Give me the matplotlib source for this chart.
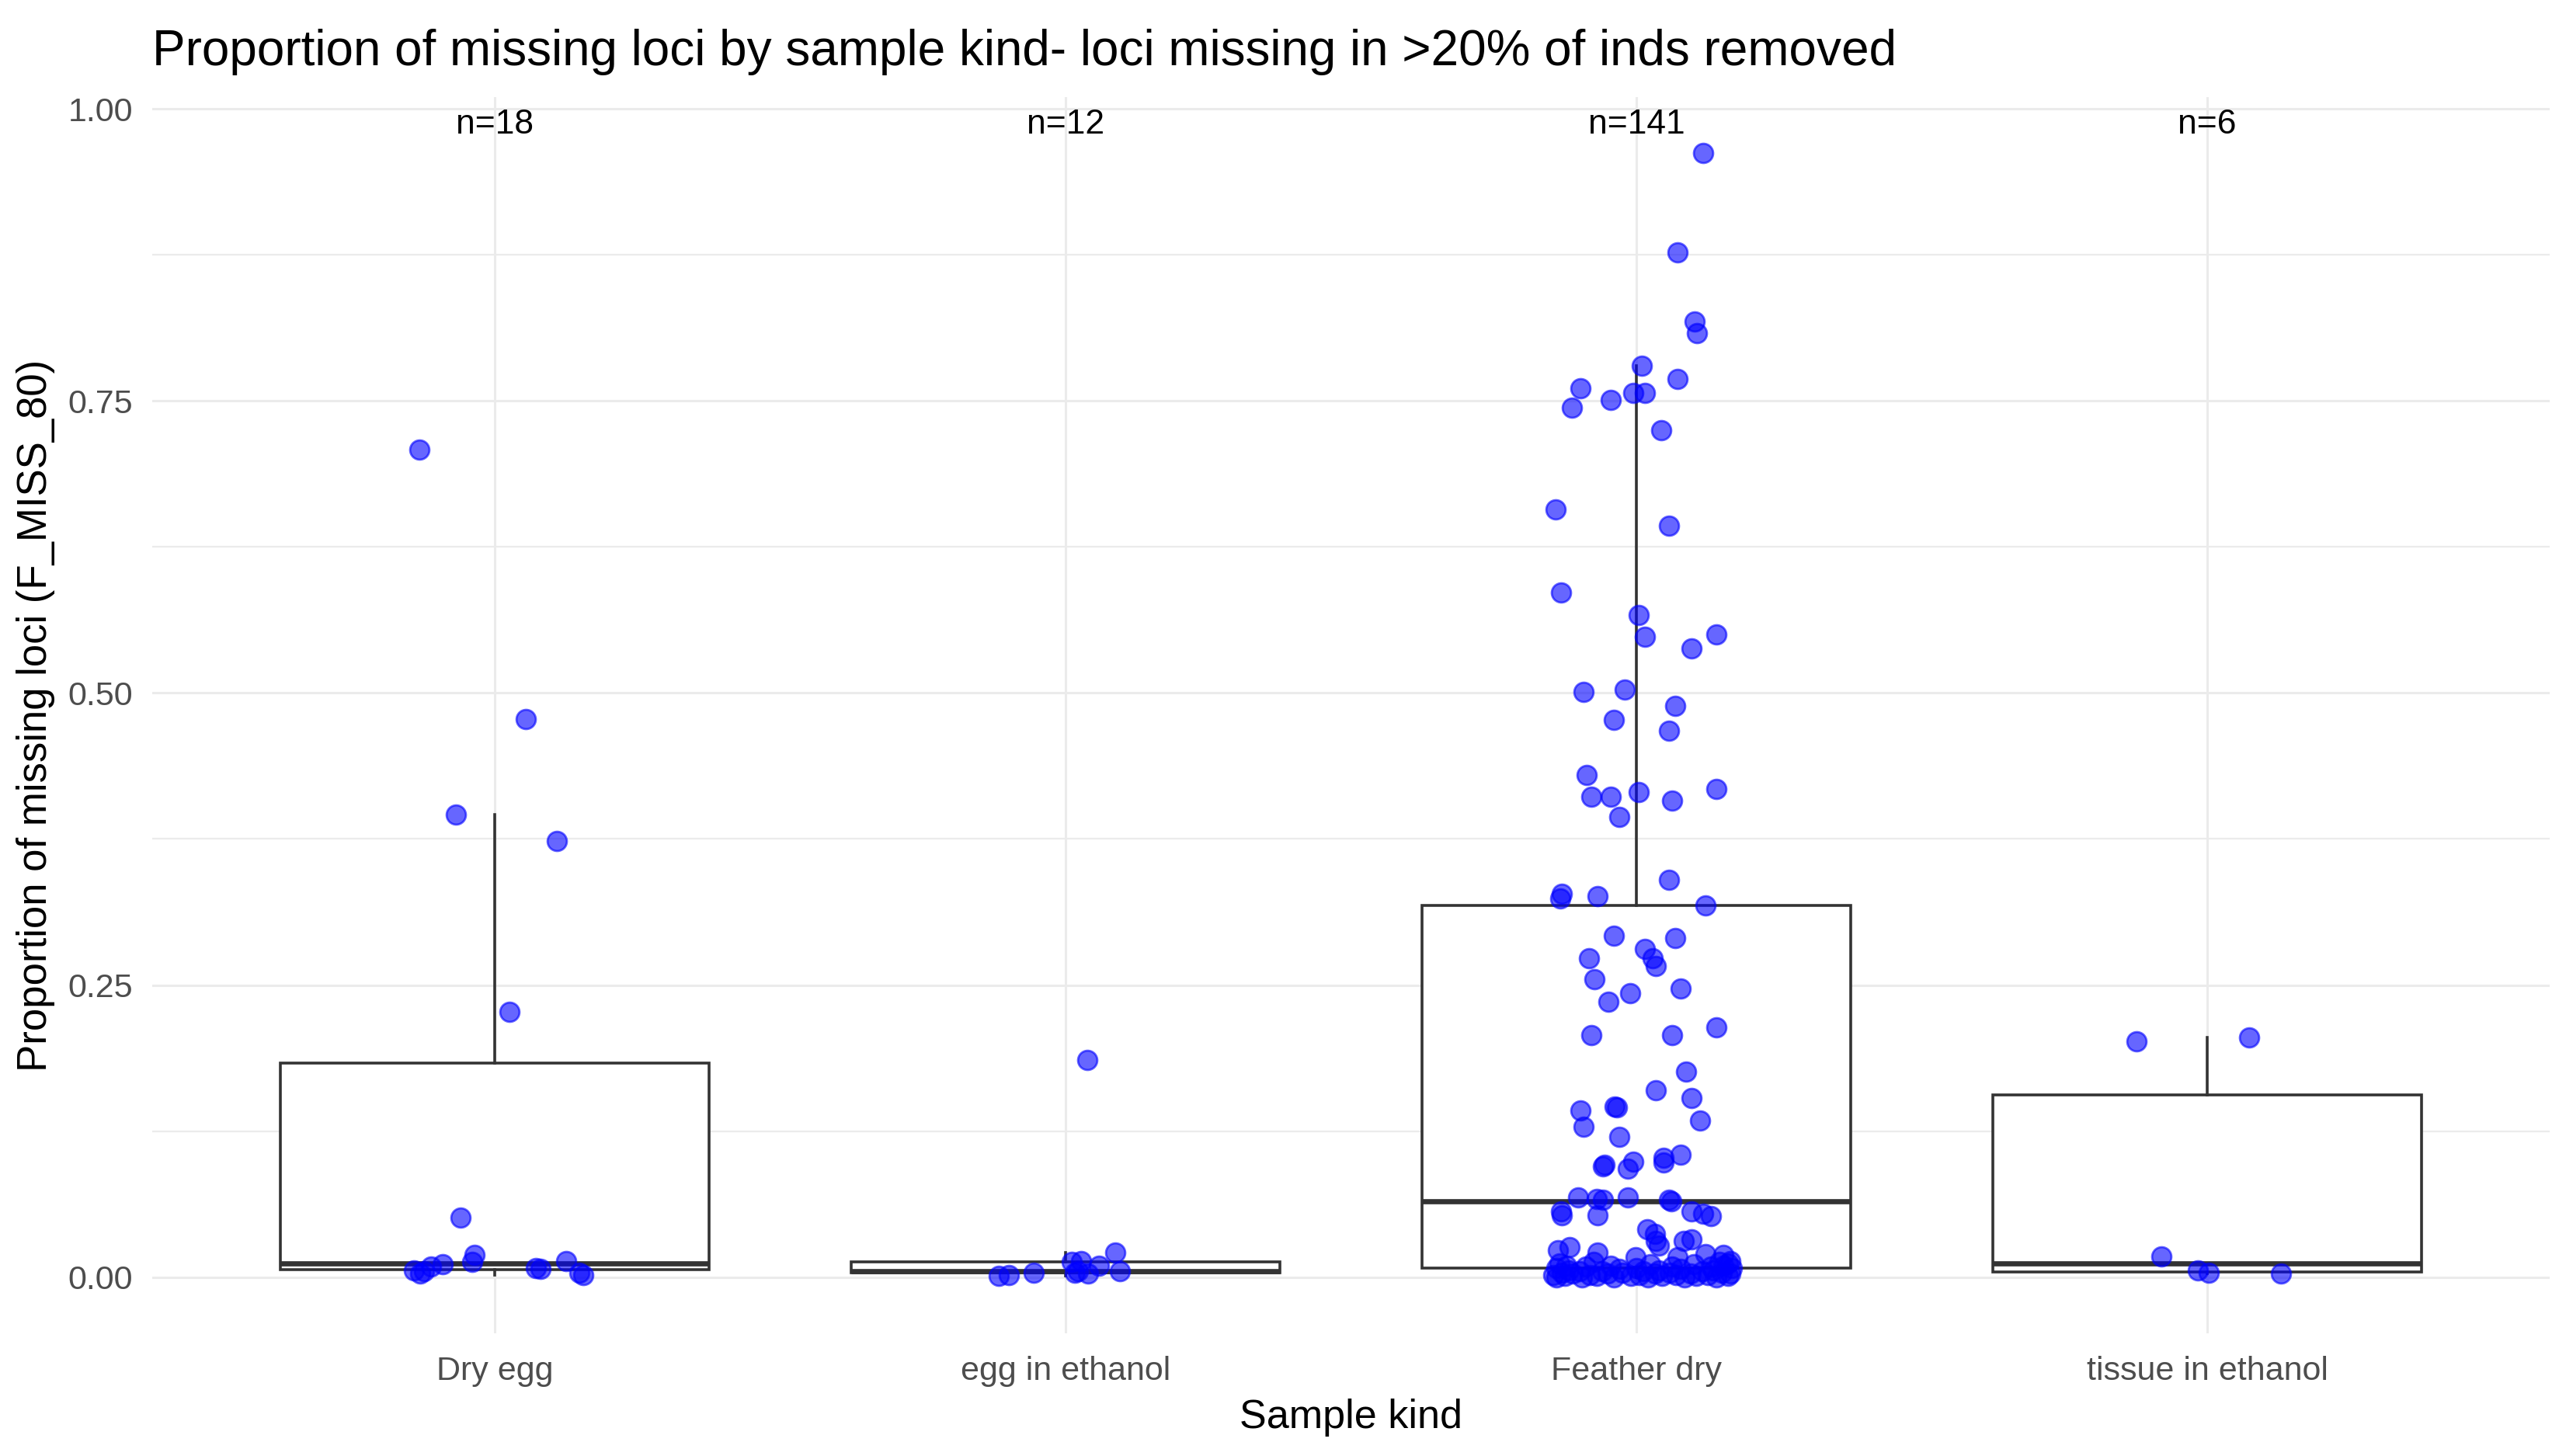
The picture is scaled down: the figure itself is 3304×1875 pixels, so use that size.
import matplotlib.pyplot as plt
import numpy as np
from matplotlib.ticker import MultipleLocator

plt.rcParams['font.family'] = ['Liberation Sans', 'DejaVu Sans']

categories = ["Dry egg", "egg in ethanol", "Feather dry", "tissue in ethanol"]

# F_MISS_80 values per sample kind, with the jitter offset of each point
dry_egg = [0.708, 0.478, 0.396, 0.373, 0.227, 0.051,
           0.006, 0.005, 0.009, 0.011, 0.003, 0.013, 0.019, 0.008, 0.007, 0.014, 0.004, 0.002]
dry_egg_jit = [-0.132, 0.055, -0.068, 0.109, 0.026, -0.060,
               -0.141, -0.124, -0.112, -0.091, -0.130, -0.039, -0.035, 0.072, 0.080, 0.125, 0.148, 0.155]

egg_ethanol = [0.186, 0.001, 0.002, 0.004, 0.013, 0.021, 0.004, 0.003, 0.010, 0.014, 0.005, 0.005]
egg_ethanol_jit = [0.038, -0.117, -0.100, -0.056, 0.011, 0.087, 0.016, 0.039, 0.058, 0.027, 0.095, 0.022]

feather_dry = [0.962, 0.877, 0.818, 0.808, 0.780, 0.769, 0.761, 0.751, 0.757, 0.757, 0.744, 0.725,
               0.657, 0.643, 0.586, 0.567, 0.548, 0.550, 0.538, 0.501, 0.503, 0.489, 0.477, 0.468,
               0.430, 0.411, 0.411, 0.415, 0.418, 0.408, 0.394, 0.340, 0.324, 0.328, 0.326, 0.318,
               0.292, 0.290, 0.273, 0.281, 0.273, 0.266, 0.255, 0.247, 0.243, 0.236, 0.214, 0.207,
               0.207, 0.176, 0.160, 0.153, 0.143, 0.146, 0.145, 0.129, 0.134, 0.120, 0.095, 0.096,
               0.093, 0.099, 0.102, 0.098, 0.105, 0.068, 0.067, 0.066, 0.068, 0.066, 0.056, 0.053,
               0.053, 0.065, 0.056, 0.054, 0.052, 0.041, 0.037, 0.031, 0.027, 0.031, 0.032, 0.023,
               0.026, 0.021, 0.020, 0.019, 0.017, 0.017,
               0.000, 0.000, 0.000, 0.000, 0.000, 0.000, 0.001, 0.001, 0.001, 0.001, 0.001, 0.001,
               0.002, 0.002, 0.002, 0.002, 0.002, 0.003, 0.003, 0.003, 0.003, 0.003,
               0.004, 0.004, 0.004, 0.004, 0.005, 0.005, 0.005, 0.005, 0.006, 0.006, 0.006,
               0.007, 0.007, 0.008, 0.008, 0.008, 0.009, 0.009, 0.009, 0.010, 0.010, 0.010,
               0.011, 0.011, 0.012, 0.012, 0.013, 0.013, 0.014]
feather_dry_jit = [0.117, 0.072, 0.102, 0.106, 0.010, 0.072, -0.098, -0.045, -0.005, 0.015, -0.113, 0.044,
                   -0.141, 0.057, -0.132, 0.004, 0.015, 0.140, 0.097, -0.093, -0.020, 0.068, -0.039, 0.057,
                   -0.087, -0.079, -0.045, 0.004, 0.140, 0.063, -0.030, 0.057, -0.133, -0.131, -0.068, 0.121,
                   -0.039, 0.068, -0.083, 0.015, 0.028, 0.034, -0.073, 0.078, -0.011, -0.049, 0.140, -0.079,
                   0.063, 0.087, 0.034, 0.097, -0.098, -0.038, -0.034, -0.093, 0.112, -0.030, -0.058, -0.056,
                   -0.015, -0.006, 0.048, 0.048, 0.078, -0.102, -0.069, -0.058, -0.015, 0.057, -0.132, -0.130,
                   -0.068, 0.061, 0.097, 0.117, 0.131, 0.019, 0.033, 0.034, 0.039, 0.083, 0.097, -0.137,
                   -0.117, -0.068, 0.121, 0.152, -0.001, 0.072,
                   -0.140, -0.095, -0.040, 0.020, 0.085, 0.140, -0.125, -0.070, -0.010, 0.045, 0.105, 0.160,
                   -0.145, -0.082, 0.005, 0.070, 0.125, -0.112, -0.050, 0.032, 0.095, 0.165,
                   -0.130, -0.025, 0.058, 0.150, -0.100, -0.060, 0.012, 0.115, -0.118, 0.040, 0.135,
                   -0.030, 0.078, -0.140, 0.000, 0.168, -0.088, 0.062, 0.130, -0.122, -0.045, 0.152,
                   0.025, 0.100, -0.135, 0.160, -0.075, 0.145, 0.165]

tissue_ethanol = [0.202, 0.205, 0.018, 0.006, 0.004, 0.003]
tissue_ethanol_jit = [-0.124, 0.074, -0.080, -0.017, 0.003, 0.129]

groups = [dry_egg, egg_ethanol, feather_dry, tissue_ethanol]
jitters = [dry_egg_jit, egg_ethanol_jit, feather_dry_jit, tissue_ethanol_jit]

fig = plt.figure(figsize=(33.04, 18.75), dpi=100)
ax = fig.add_axes([196 / 3304, 1 - 1717 / 1875, (3283 - 196) / 3304, (1717 - 125) / 1875])

pos = np.arange(1, len(categories) + 1)
line_col = '#333333'
ax.boxplot(groups, positions=pos, widths=0.75, showfliers=False, showcaps=False,
           patch_artist=True, whis=1.5,
           boxprops=dict(facecolor='white', edgecolor=line_col, linewidth=2.6),
           whiskerprops=dict(color=line_col, linewidth=2.6),
           medianprops=dict(color=line_col, linewidth=4.8, solid_capstyle='butt'),
           zorder=2)

for p, vals, jit in zip(pos, groups, jitters):
    ax.scatter(p + np.array(jit), vals, s=320, facecolor=(0, 0, 1, 0.6),
               edgecolor=(0, 0, 1, 0.6), linewidths=2.0, zorder=3)
    ax.text(p, 1.0, f"n={len(vals)}", ha='center', va='top', fontsize=32, color='black', zorder=4)

# ggplot-style limits: 5% of the data range on y, 0.6 on each side for the categories
all_vals = np.concatenate([np.array(g) for g in groups])
rng = all_vals.max() - all_vals.min()
ax.set_ylim(all_vals.min() - 0.05 * rng, all_vals.max() + 0.05 * rng)
ax.set_xlim(0.4, len(categories) + 0.6)

ax.set_xticks(pos)
ax.set_xticklabels(categories)
ax.yaxis.set_major_locator(MultipleLocator(0.25))
ax.yaxis.set_minor_locator(MultipleLocator(0.125))
ax.set_yticks([0, 0.25, 0.5, 0.75, 1.0])
ax.set_yticklabels(['0.00', '0.25', '0.50', '0.75', '1.00'])
ax.tick_params(axis='both', which='both', length=0, labelsize=31, labelcolor='#4D4D4D')
ax.tick_params(axis='y', pad=18)
ax.tick_params(axis='x', pad=21)

ax.grid(True, which='major', color='#EBEBEB', linewidth=2.2, zorder=0)
ax.grid(True, which='minor', axis='y', color='#EBEBEB', linewidth=1.6, zorder=0)
ax.set_axisbelow(True)
for s in ax.spines.values():
    s.set_visible(False)

ax.set_xlabel("Sample kind", fontsize=37.5, va='center')
ax.xaxis.set_label_coords(0.5, (1717 - 1825) / (1717 - 125))
ax.set_ylabel("Proportion of missing loci (F_MISS_80)", fontsize=38, va='center')
ax.yaxis.set_label_coords((46 - 196) / (3283 - 196), 0.5)

ax.set_title("Proportion of missing loci by sample kind- loci missing in >20% of inds removed",
             loc='left', fontsize=46, y=(1717 - 67) / (1717 - 125), va='center', pad=0)

fig.savefig("out.png", dpi=100)
